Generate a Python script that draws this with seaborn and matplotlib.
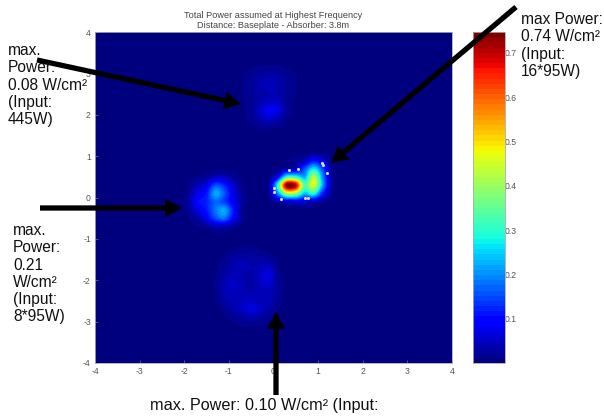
import numpy as np
import seaborn as sns
import matplotlib.pyplot as plt
from matplotlib.patches import FancyArrowPatch

W, H = 604, 416
background = 0.008

# power patches: (left cell centre x, top cell centre y, rows)
patch_top = [
    [.01, .012, .016, .018, .016, .012, .01],
    [.012, .02, .03, .035, .03, .02, .012],
    [.012, .022, .035, .04, .035, .022, .012],
    [.012, .02, .03, .035, .035, .02, .012],
    [.01, .018, .035, .05, .05, .02, .01],
    [.01, .02, .05, .085, .07, .022, .01],
    [.01, .016, .035, .05, .035, .012, .01],
    [.008, .01, .014, .016, .012, .01, .008],
]
patch_left = [
    [.01, .012, .02, .04, .04, .02, .01],
    [.012, .04, .07, .15, .12, .05, .014],
    [.02, .07, .11, .22, .16, .07, .02],
    [.03, .10, .12, .17, .14, .08, .025],
    [.02, .07, .11, .18, .22, .11, .02],
    [.012, .03, .08, .15, .18, .09, .02],
    [.01, .012, .02, .04, .04, .02, .01],
]
patch_center = [
    [.008, .01, .012, .02, .04, .10, .06, .012],
    [.008, .012, .03, .05, .15, .26, .15, .02],
    [.012, .08, .30, .30, .22, .42, .20, .03],
    [.03, .30, .74, .70, .34, .46, .22, .03],
    [.02, .20, .42, .40, .24, .30, .12, .02],
    [.01, .03, .06, .07, .06, .05, .02, .01],
]
patch_bottom = [
    [.008, .01, .014, .018, .018, .014, .01, .008, .008],
    [.01, .014, .03, .035, .03, .03, .025, .012, .008],
    [.01, .02, .035, .04, .035, .04, .05, .014, .008],
    [.012, .03, .04, .035, .03, .05, .07, .02, .008],
    [.014, .04, .05, .04, .03, .045, .055, .02, .008],
    [.012, .035, .045, .04, .035, .04, .04, .025, .008],
    [.01, .03, .04, .045, .05, .04, .04, .02, .008],
    [.008, .016, .035, .05, .07, .05, .03, .012, .008],
    [.008, .01, .016, .025, .035, .025, .015, .008, .008],
    [.008, .008, .01, .012, .014, .012, .01, .008, .008],
]
patches = [(-.7, 3.1, patch_top), (-1.9, .5, patch_left),
           (-.1, .9, patch_center), (-1.3, -1.3, patch_bottom)]

speck_x = [0.0, 0.0, .17, .35, .54, 1.09, 1.12, 1.21, .70, .78]
speck_y = [.22, .14, -.04, .66, .70, .83, .79, .60, -.02, -.02]

ticks = [-4, -3, -2, -1, 0, 1, 2, 3, 4]
cbar_ticks = [.1, .2, .3, .4, .5, .6, .7]

title = 'Total Power assumed at Highest Frequency\nDistance: Baseplate - Absorber: 3.8m'


def axes_rect(x0, y0, x1, y1):
    return [x0 / W, 1 - y1 / H, (x1 - x0) / W, (y1 - y0) / H]


def arrow(fig, tail, tip):
    a = FancyArrowPatch((tail[0], H - tail[1]), (tip[0], H - tip[1]), transform=None,
                        arrowstyle='simple,head_length=12,head_width=13,tail_width=3.8',
                        mutation_scale=1, color='black', lw=0, shrinkA=0, shrinkB=0, zorder=10)
    fig.add_artist(a)


def label(fig, x, y, s, size=11.2):
    fig.text(x / W, 1 - y / H, s, fontsize=size, color='#111111', va='top', ha='left',
             linespacing=1.19, zorder=11)


sns.set_style('white')
plt.rcParams['font.family'] = ['Liberation Sans', 'DejaVu Sans']
plt.rcParams['axes.unicode_minus'] = False
cmap = plt.get_cmap('jet', 64)

grid = np.full((40, 40), background)
for x0, y0, rows in patches:
    rows = np.array(rows)
    c = int(round((x0 + 3.9) / .2))
    r = int(round((3.9 - y0) / .2))
    grid[r:r + rows.shape[0], c:c + rows.shape[1]] = rows

fig = plt.figure(figsize=(W / 100, H / 100), dpi=100)
ax = fig.add_axes(axes_rect(95, 32, 452, 363))
im = ax.imshow(grid, cmap=cmap, vmin=0, vmax=.747, extent=(-4, 4, -4, 4), aspect='auto',
               interpolation='catrom', origin='upper')
sns.scatterplot(x=speck_x, y=speck_y, s=5, color='#d8d8d8', marker='o', linewidth=0, ax=ax)
ax.set_xlim(-4, 4)
ax.set_ylim(-4, 4)
ax.set_xticks(ticks)
ax.set_yticks(ticks)
ax.tick_params(direction='in', length=2, width=.5, labelsize=6.2, labelcolor='#555555',
               color='#777777', pad=3, left=True, bottom=True)
for s in ax.spines.values():
    s.set_color('#aaaaaa')
    s.set_linewidth(.6)
ax.set_title(title, fontsize=6.6, color='#444444', pad=3, linespacing=1.05)

cax = fig.add_axes(axes_rect(473, 32, 505, 363))
cb = fig.colorbar(im, cax=cax)
cb.set_ticks(cbar_ticks)
cb.set_ticklabels(['0.1', '0.2', '0.3', '0.4', '0.5', '0.6', '0.7'])
cax.tick_params(direction='in', length=2, width=.5, labelsize=6.2, labelcolor='#555555',
                color='#555555', pad=0, left=True, right=True)
cb.outline.set_edgecolor('#aaaaaa')
cb.outline.set_linewidth(.6)

arrow(fig, (37, 60), (241, 104))
arrow(fig, (40, 208), (182, 208))
arrow(fig, (276, 395), (276, 312))
arrow(fig, (516, 7), (331, 163))

label(fig, 8, 43, 'max.\nPower:\n0.08 W/cm²\n(Input:\n445W)')
label(fig, 13, 223, 'max.\nPower:\n0.21\nW/cm²\n(Input:\n8*95W)')
label(fig, 521, 12, 'max Power:\n0.74 W/cm²\n(Input:\n16*95W)')
label(fig, 150, 398, 'max. Power: 0.10 W/cm² (Input:', size=11.7)

fig.savefig('out.png', dpi=100)
